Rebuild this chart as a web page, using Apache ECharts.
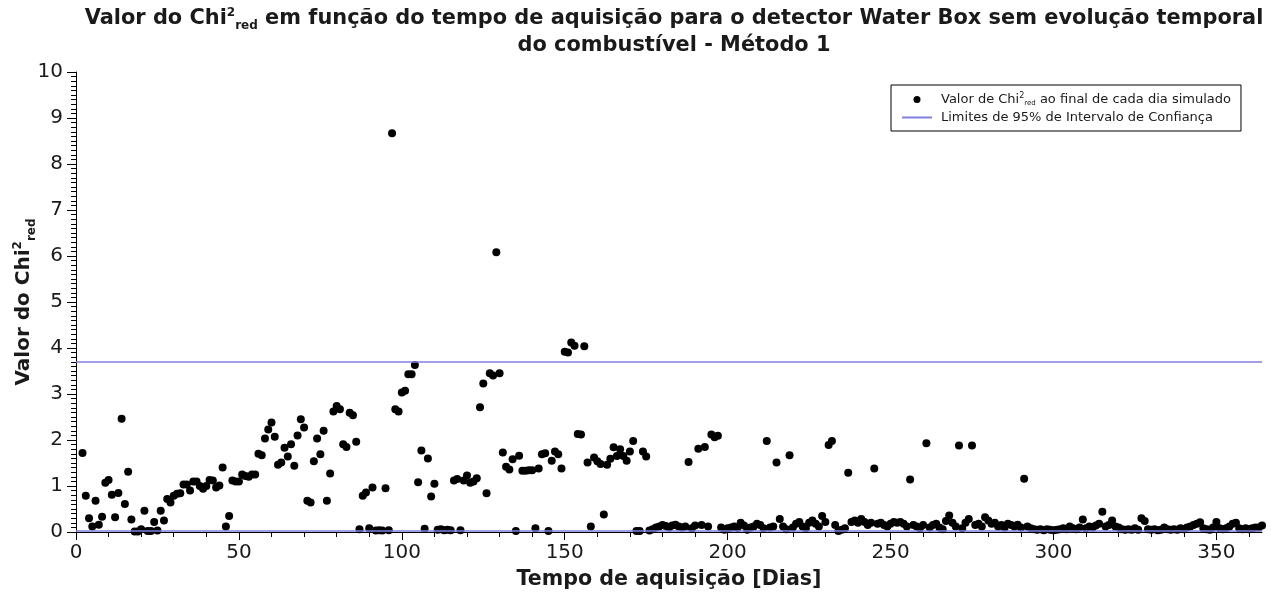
<!DOCTYPE html>
<html>
<head>
<meta charset="utf-8">
<script src="https://cdn.jsdelivr.net/npm/echarts@6/dist/echarts.min.js"></script>
<style>
html,body{margin:0;padding:0;background:#fff;}
#chart{width:1271px;height:592px;}
</style>
</head>
<body>
<div id="chart"></div>
<script>
// Chi2_red value at the end of each simulated day (index = day; null = no point)
const chiValues = [
  null, null, 1.72, 0.79, 0.30, 0.12, 0.68, 0.16, 0.33, 1.07,   // 0-9
  1.13, 0.81, 0.32, 0.85, 2.46, 0.61, 1.31, 0.27, 0.01, 0.01,   // 10-19
  0.06, 0.46, 0.02, 0.02, 0.22, 0.03, 0.46, 0.25, 0.72, 0.64,   // 20-29
  0.79, 0.83, 0.84, 1.03, 1.03, 0.90, 1.10, 1.10, 1.00, 0.94,   // 30-39
  1.00, 1.13, 1.12, 0.97, 1.01, 1.40, 0.12, 0.35, 1.12, 1.10,   // 40-49
  1.10, 1.25, 1.22, 1.20, 1.25, 1.25, 1.70, 1.67, 2.03, 2.23,   // 50-59
  2.38, 2.07, 1.46, 1.51, 1.83, 1.64, 1.91, 1.44, 2.10, 2.45,   // 60-69
  2.27, 0.68, 0.64, 1.54, 2.03, 1.69, 2.20, 0.68, 1.27, 2.62,   // 70-79
  2.74, 2.67, 1.91, 1.85, 2.59, 2.54, 1.96, 0.06, 0.79, 0.86,   // 80-89
  0.08, 0.97, 0.03, 0.04, 0.03, 0.95, 0.04, 8.67, 2.67, 2.62,   // 90-99
  3.03, 3.07, 3.43, 3.43, 3.63, 1.08, 1.77, 0.07, 1.60, 0.77,   // 100-109
  1.05, 0.05, 0.06, 0.04, 0.05, 0.04, 1.12, 1.15, 0.04, 1.12,   // 110-119
  1.23, 1.07, 1.10, 1.17, 2.71, 3.23, 0.84, 3.45, 3.40, 6.08,   // 120-129
  3.45, 1.73, 1.42, 1.36, 1.58, 0.02, 1.66, 1.33, 1.33, 1.34,   // 130-139
  1.34, 0.08, 1.38, 1.69, 1.71, 0.02, 1.55, 1.75, 1.69, 1.38,   // 140-149
  3.92, 3.90, 4.12, 4.05, 2.13, 2.12, 4.04, 1.51, 0.12, 1.62,   // 150-159
  1.54, 1.48, 0.38, 1.46, 1.59, 1.84, 1.65, 1.80, 1.65, 1.55,   // 160-169
  1.75, 1.98, 0.02, 0.02, 1.75, 1.64, 0.03, 0.06, 0.10, 0.12,   // 170-179
  0.15, 0.13, 0.10, 0.14, 0.16, 0.12, 0.10, 0.12, 1.52, 0.08,   // 180-189
  0.14, 1.81, 0.15, 1.85, 0.12, 2.12, 2.06, 2.09, 0.10, 0.05,   // 190-199
  0.08, 0.10, 0.12, 0.09, 0.20, 0.14, 0.05, 0.10, 0.12, 0.18,   // 200-209
  0.15, 0.08, 1.98, 0.10, 0.12, 1.51, 0.28, 0.12, 0.06, 1.67,   // 210-219
  0.10, 0.18, 0.22, 0.12, 0.08, 0.20, 0.25, 0.18, 0.12, 0.35,   // 220-229
  0.22, 1.89, 1.98, 0.15, 0.02, 0.05, 0.08, 1.29, 0.22, 0.25,   // 230-239
  0.20, 0.28, 0.22, 0.15, 0.20, 1.38, 0.18, 0.20, 0.15, 0.12,   // 240-249
  0.18, 0.22, 0.20, 0.22, 0.18, 0.12, 1.14, 0.15, 0.12, 0.08,   // 250-259
  0.15, 1.93, 0.10, 0.15, 0.18, 0.10, 0.06, 0.24, 0.36, 0.20,   // 260-269
  0.12, 1.88, 0.08, 0.20, 0.28, 1.88, 0.15, 0.18, 0.12, 0.32,   // 270-279
  0.25, 0.18, 0.20, 0.12, 0.15, 0.10, 0.18, 0.15, 0.12, 0.16,   // 280-289
  0.10, 1.16, 0.12, 0.08, 0.06, 0.05, 0.06, 0.04, 0.06, 0.05,   // 290-299
  0.04, 0.05, 0.06, 0.08, 0.06, 0.12, 0.08, 0.06, 0.10, 0.27,   // 300-309
  0.08, 0.12, 0.10, 0.14, 0.18, 0.44, 0.12, 0.15, 0.25, 0.12,   // 310-319
  0.10, 0.06, 0.05, 0.06, 0.05, 0.08, 0.05, 0.30, 0.24, 0.06,   // 320-329
  0.05, 0.06, 0.04, 0.05, 0.10, 0.06, 0.05, 0.06, 0.05, 0.08,   // 330-339
  0.06, 0.10, 0.12, 0.15, 0.18, 0.21, 0.08, 0.06, 0.05, 0.10,   // 340-349
  0.22, 0.08, 0.06, 0.08, 0.12, 0.18, 0.20, 0.08, 0.06, 0.08,   // 350-359
  0.06, 0.08, 0.10, 0.10, 0.14                                  // 360-364
];
// 95% confidence interval limits (lower, upper)
const confidenceLimits = [0.03, 3.70];
// axis ticks
const xMajorTicks = [0, 50, 100, 150, 200, 250, 300, 350];
const xMinorTicks = [10, 20, 30, 40, 60, 70, 80, 90, 110, 120, 130, 140, 160, 170, 180, 190,
  210, 220, 230, 240, 260, 270, 280, 290, 310, 320, 330, 340, 360];
const yTicks = [0, 1, 2, 3, 4, 5, 6, 7, 8, 9, 10];

const scatterName = 'Valor de Chi2red ao final de cada dia simulado';
const lineName = 'Limites de 95% de Intervalo de Confiança';

const points = [];
chiValues.forEach((v, day) => { if (v !== null) points.push([day, v]); });

const FONT = 'DejaVu Sans';
const TXT = '#1a1a1a';
const LIMIT_COLOR = '#8080e0';

const chart = echarts.init(document.getElementById('chart'), null, {renderer: 'canvas'});
chart.setOption({
  animation: false,
  backgroundColor: '#fff',
  title: {
    text: '{b|Valor do Chi}{sup|2}{sub|red}{b| em função do tempo de aquisição para o detector Water Box sem evolução temporal}\n{b|do combustível - Método 1}',
    left: 669,
    top: 0,
    textAlign: 'center',
    textStyle: {
      fontFamily: FONT, fontWeight: 'bold', fontSize: 20.9, color: TXT, lineHeight: 27,
      rich: {
        b: {fontFamily: FONT, fontWeight: 'bold', fontSize: 20.9, color: TXT, lineHeight: 27},
        sup: {fontFamily: FONT, fontWeight: 'bold', fontSize: 12, color: TXT, verticalAlign: 'top', padding: [2, 0, 0, 0]},
        sub: {fontFamily: FONT, fontWeight: 'bold', fontSize: 12, color: TXT, verticalAlign: 'bottom'}
      }
    }
  },
  legend: {
    orient: 'vertical',
    left: 891,
    top: 85,
    backgroundColor: '#fff',
    borderColor: '#000',
    borderWidth: 1,
    borderRadius: 0,
    padding: [7, 10, 7, 11],
    itemGap: 4,
    itemWidth: 30,
    itemHeight: 7,
    data: [
      {name: scatterName, icon: 'circle'},
      {name: lineName, icon: 'path://M0,0H30V2H0Z'}
    ],
    formatter: function (n) {
      if (n === scatterName) return '{t|Valor de Chi}{sup|2}{sub|red}{t| ao final de cada dia simulado}';
      return '{t|' + n + '}';
    },
    textStyle: {
      fontFamily: FONT, fontSize: 13, color: TXT, padding: [0, 0, 0, 4],
      rich: {
        t: {fontFamily: FONT, fontSize: 13, color: TXT, lineHeight: 15},
        sup: {fontFamily: FONT, fontSize: 8, color: TXT, verticalAlign: 'top'},
        sub: {fontFamily: FONT, fontSize: 7, color: TXT, verticalAlign: 'bottom'}
      }
    }
  },
  grid: {left: 76, right: 9, top: 72, bottom: 60, containLabel: false, outerBoundsMode: 'none'},
  xAxis: [{
    type: 'value', min: 0, max: 364,
    axisLine: {show: true, lineStyle: {color: '#000', width: 1}},
    axisTick: {show: true, length: 8, customValues: xMajorTicks, lineStyle: {color: '#000', width: 1}},
    minorTick: {show: false},
    splitLine: {show: false},
    axisLabel: {customValues: xMajorTicks, fontFamily: FONT, fontSize: 20, color: TXT, margin: 11},
    name: 'Tempo de aquisição [Dias]',
    nameLocation: 'middle',
    nameGap: 37,
    nameTextStyle: {fontFamily: FONT, fontWeight: 'bold', fontSize: 20.6, color: TXT}
  }, {
    type: 'value', min: 0, max: 364, position: 'bottom',
    axisLine: {show: false},
    axisTick: {show: true, length: 5, customValues: xMinorTicks, lineStyle: {color: '#000', width: 1}},
    axisLabel: {show: false},
    splitLine: {show: false}
  }],
  yAxis: {
    type: 'value', min: yTicks[0], max: yTicks[yTicks.length - 1], interval: 1,
    axisLine: {show: true, lineStyle: {color: '#000', width: 1}},
    axisTick: {show: true, length: 9, lineStyle: {color: '#000', width: 1}},
    minorTick: {show: true, splitNumber: 10, length: 5, lineStyle: {color: '#000', width: 1}},
    splitLine: {show: false},
    minorSplitLine: {show: false},
    axisLabel: {fontFamily: FONT, fontSize: 20, color: TXT, margin: 13},
    name: '{b|Valor do Chi}{sup|2}{sub|red}',
    nameLocation: 'middle',
    nameGap: 38,
    nameMoveOverlap: false,
    nameRotate: 90,
    nameTextStyle: {
      fontFamily: FONT, fontWeight: 'bold', fontSize: 20, color: TXT,
      rich: {
        b: {fontFamily: FONT, fontWeight: 'bold', fontSize: 20, color: TXT, lineHeight: 28},
        sup: {fontFamily: FONT, fontWeight: 'bold', fontSize: 12, color: TXT, verticalAlign: 'top', padding: [2, 0, 0, 0]},
        sub: {fontFamily: FONT, fontWeight: 'bold', fontSize: 12, color: TXT, verticalAlign: 'bottom'}
      }
    }
  },
  series: [{
    name: scatterName,
    type: 'scatter',
    xAxisIndex: 0,
    data: points,
    symbol: 'circle',
    symbolSize: 8,
    itemStyle: {color: '#000', opacity: 1},
    emphasis: {disabled: true},
    z: 3
  }, {
    name: lineName,
    type: 'line',
    xAxisIndex: 0,
    data: [],
    itemStyle: {color: LIMIT_COLOR},
    lineStyle: {color: LIMIT_COLOR, width: 1.5},
    markLine: {
      silent: true,
      symbol: ['none', 'none'],
      label: {show: false},
      lineStyle: {color: LIMIT_COLOR, width: 1.5, type: 'solid'},
      emphasis: {disabled: true},
      data: confidenceLimits.map(v => ({yAxis: v}))
    },
    z: 2
  }]
});
</script>
</body>
</html>
